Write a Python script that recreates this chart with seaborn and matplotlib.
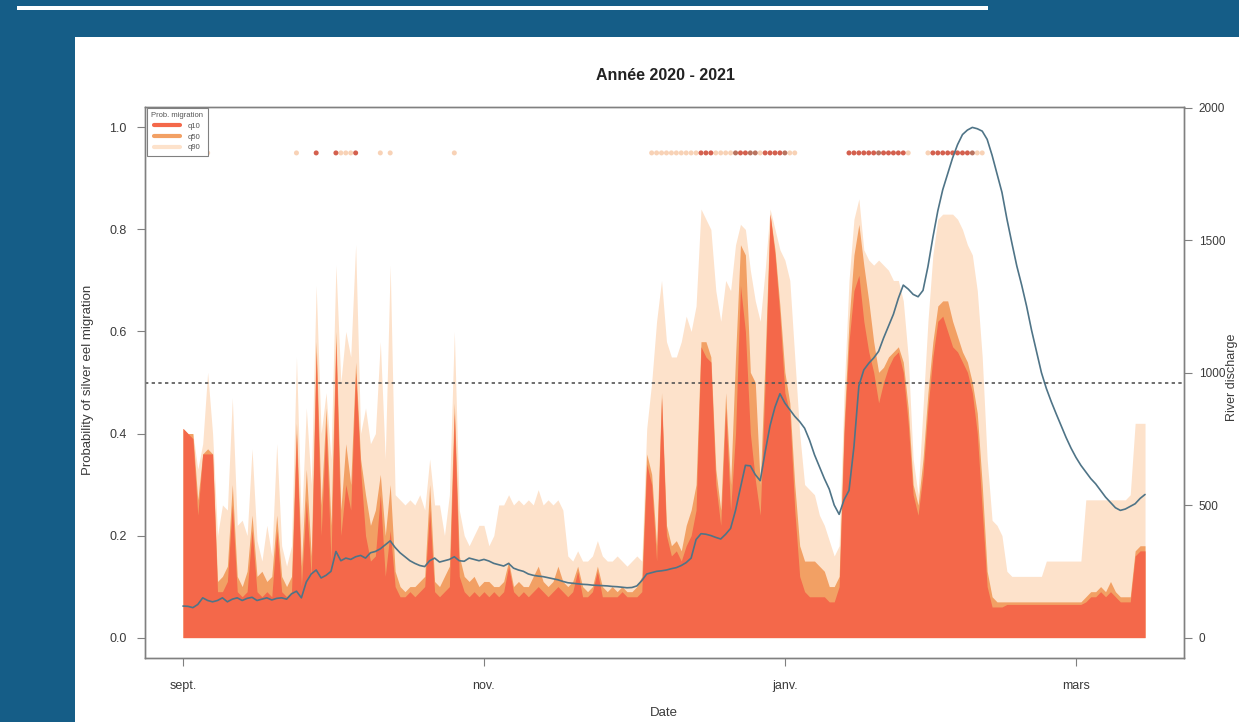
import numpy as np
import pandas as pd
import matplotlib
matplotlib.use("Agg")
import matplotlib.pyplot as plt
import matplotlib.dates as mdates
from matplotlib.lines import Line2D
from matplotlib.patches import Rectangle
import seaborn as sns

# ---- data (one value per day, 2020-09-01 ...) ----
start_date = "2020-09-01"

# lower band (red, front)
p_low = [
    .41, .40, .39, .24, .36, .36, .36, .09, .09, .11,
    .26, .09, .08, .09, .21, .09, .08, .09, .08, .21,
    .09, .08, .09, .40, .10, .27, .12, .56, .20, .42,
    .15, .58, .20, .30, .25, .52, .33, .20, .15, .16,
    .28, .12, .21, .10, .08, .08, .09, .08, .09, .10,
    .25, .09, .08, .09, .10, .44, .12, .09, .08, .09,
    .08, .09, .08, .09, .08, .09, .14, .09, .08, .09,
    .08, .09, .10, .09, .08, .09, .10, .09, .08, .09,
    .13, .08, .08, .09, .13, .08, .08, .08, .08, .09,
    .08, .08, .08, .09, .34, .30, .15, .47, .20, .16,
    .17, .15, .18, .20, .25, .57, .55, .54, .30, .22,
    .45, .25, .40, .69, .60, .40, .31, .24, .50, .83,
    .75, .63, .48, .44, .25, .12, .09, .08, .08, .08,
    .08, .07, .07, .10, .40, .58, .68, .71, .62, .56,
    .52, .46, .50, .53, .55, .56, .52, .42, .28, .24,
    .32, .45, .55, .62, .63, .60, .57, .56, .54, .52,
    .48, .40, .25, .10, .06, .06, .06, .065, .065, .065,
    .065, .065, .065, .065, .065, .065, .065, .065, .065, .065,
    .065, .065, .065, .07, .08, .08, .09, .08, .09, .08,
    .07, .07, .07, .16, .17, .17,
]

# middle band (orange)
p_mid = [
    .41, .40, .40, .27, .36, .37, .36, .11, .12, .14,
    .30, .12, .10, .13, .24, .12, .13, .11, .12, .24,
    .12, .10, .12, .42, .14, .33, .16, .58, .26, .45,
    .22, .60, .25, .38, .30, .54, .35, .28, .22, .25,
    .32, .20, .30, .13, .10, .09, .10, .10, .11, .12,
    .30, .11, .10, .12, .14, .46, .16, .12, .11, .12,
    .10, .11, .11, .10, .10, .11, .15, .10, .11, .10,
    .10, .12, .14, .11, .10, .11, .14, .11, .10, .11,
    .14, .10, .09, .10, .14, .10, .09, .10, .09, .10,
    .09, .09, .10, .12, .36, .32, .18, .48, .22, .18,
    .19, .17, .22, .25, .30, .58, .58, .55, .33, .25,
    .48, .30, .55, .77, .75, .52, .50, .30, .55, .83,
    .76, .65, .52, .46, .30, .18, .15, .15, .15, .14,
    .13, .10, .10, .12, .42, .62, .75, .81, .73, .66,
    .58, .52, .53, .55, .56, .57, .54, .45, .30, .26,
    .35, .48, .58, .65, .66, .66, .62, .59, .56, .54,
    .50, .44, .30, .13, .08, .07, .07, .07, .07, .07,
    .07, .07, .07, .07, .07, .07, .07, .07, .07, .07,
    .07, .07, .07, .08, .09, .09, .10, .09, .11, .09,
    .08, .08, .08, .17, .18, .18,
]

# upper band (light peach, back)
p_high = [
    .41, .40, .40, .33, .38, .52, .40, .20, .26, .25,
    .47, .22, .23, .20, .37, .19, .15, .22, .16, .38,
    .18, .14, .18, .55, .22, .45, .30, .69, .40, .48,
    .35, .73, .50, .60, .55, .77, .40, .45, .38, .40,
    .58, .35, .73, .28, .27, .26, .27, .26, .28, .25,
    .35, .26, .26, .20, .28, .60, .25, .20, .18, .20,
    .22, .22, .18, .20, .26, .26, .28, .26, .27, .26,
    .27, .26, .29, .26, .27, .26, .27, .25, .16, .15,
    .17, .15, .15, .16, .19, .16, .15, .15, .16, .15,
    .14, .15, .16, .15, .41, .50, .62, .70, .58, .55,
    .55, .58, .63, .60, .65, .84, .82, .80, .68, .62,
    .70, .68, .77, .81, .80, .72, .66, .62, .72, .84,
    .80, .76, .74, .70, .55, .40, .30, .29, .28, .24,
    .22, .19, .16, .18, .48, .70, .82, .86, .76, .74,
    .73, .74, .73, .72, .70, .70, .66, .55, .35, .28,
    .45, .62, .75, .82, .83, .83, .83, .82, .80, .77,
    .75, .68, .55, .35, .23, .22, .20, .13, .12, .12,
    .12, .12, .12, .12, .12, .15, .15, .15, .15, .15,
    .15, .15, .15, .27, .27, .27, .27, .27, .27, .27,
    .27, .27, .28, .42, .42, .42,
]

# river discharge (right axis)
discharge = [
    119, 118, 113, 125, 150, 140, 135, 140, 150, 135,
    145, 150, 140, 148, 152, 140, 145, 150, 142, 148,
    150, 145, 165, 175, 150, 210, 240, 255, 225, 235,
    250, 325, 290, 300, 295, 305, 310, 300, 320, 325,
    335, 350, 365, 340, 320, 305, 290, 280, 272, 268,
    290, 300, 285, 290, 295, 305, 290, 288, 300, 295,
    290, 295, 289, 280, 275, 270, 280, 262, 255, 250,
    240, 235, 232, 230, 226, 222, 218, 212, 207, 205,
    203, 201, 200, 198, 197, 196, 195, 193, 192, 190,
    188, 189, 195, 215, 240, 245, 250, 252, 255, 260,
    264, 272, 283, 300, 370, 392, 390, 385, 378, 372,
    390, 412, 480, 566, 650, 648, 615, 592, 700, 800,
    870, 920, 885, 860, 835, 815, 790, 745, 690, 645,
    600, 560, 500, 465, 520, 555, 720, 950, 1010, 1035,
    1055, 1080, 1130, 1175, 1220, 1280, 1330, 1315, 1295, 1286,
    1310, 1400, 1510, 1610, 1690, 1750, 1810, 1860, 1898, 1915,
    1925, 1920, 1911, 1880, 1820, 1750, 1680, 1580, 1490, 1403,
    1330, 1250, 1160, 1080, 1000, 940, 890, 844, 800, 755,
    715, 680, 650, 625, 600, 580, 555, 530, 510, 490,
    480, 485, 495, 505, 525, 540,
]

month_ticks = ["2020-09-01", "2020-11-01", "2021-01-01", "2021-03-01"]
month_labels = ["sept.", "nov.", "janv.", "mars"]
prob_ticks = [0.0, 0.2, 0.4, 0.6, 0.8, 1.0]
prob_labels = ["0.0", "0.2", "0.4", "0.6", "0.8", "1.0"]
flow_ticks = [0, 500, 1000, 1500, 2000]
legend_labels = ["q10", "q50", "q90"]

threshold = 0.5
marker_level = 0.95

# colours
slide_blue = "#155d87"
c_low = "#f4684a"
c_mid = "#f2a064"
c_high = "#fde2cb"
c_flow = "#4f7487"
c_axis = "#808080"
c_text = "#3a3a3a"

sns.set_theme(style="white")
plt.rcParams["font.family"] = ["Liberation Sans", "DejaVu Sans"]

dates = pd.date_range(start_date, periods=len(discharge), freq="D")
df = pd.DataFrame({"date": dates, "low": p_low, "mid": p_mid,
                   "high": p_high, "flow": discharge})

# days above the 0.5 threshold, shown as a strip of dots near the top
cat = np.select([df["low"] >= threshold, df["mid"] >= threshold, df["high"] >= threshold],
                ["low", "mid", "high"], default="")
marks = pd.DataFrame({"date": df["date"], "level": marker_level, "cat": cat})
marks = marks[marks["cat"] != ""]
marks["order"] = marks["cat"].map({"high": 0, "mid": 1, "low": 2})
marks = marks.sort_values("order")

W, H = 1239, 722
fig = plt.figure(figsize=(W / 100, H / 100), dpi=100, facecolor=slide_blue)
fig.add_artist(Rectangle((75 / W, 0), 1 - 75 / W, 1 - 37 / H, transform=fig.transFigure,
                         facecolor="white", edgecolor="none", zorder=-2))
fig.add_artist(Rectangle((17 / W, 1 - 10 / H), (988 - 17) / W, 4 / H, transform=fig.transFigure,
                         facecolor="white", edgecolor="none", zorder=-2))

ax = fig.add_axes([144.5 / W, 1 - 658 / H, 1039 / W, 551 / H])
ax.set_facecolor("white")

ax.fill_between(df["date"], 0, df["high"], color=c_high, lw=0, zorder=1)
ax.fill_between(df["date"], 0, df["mid"], color=c_mid, lw=0, zorder=1.1)
ax.fill_between(df["date"], 0, df["low"], color=c_low, lw=0, zorder=1.2)
ax.axhline(threshold, color="#555555", lw=1.2, ls=(0, (2, 2)), zorder=2)

sns.scatterplot(data=marks, x="date", y="level", hue="cat",
                palette={"high": "#f8d2b6", "mid": "#b9735f", "low": "#d4604e"},
                s=13, linewidth=0, legend=False, ax=ax, zorder=3)

x0 = mdates.date2num(dates[0])
ax.set_xlim(x0 - 7.8, x0 + 202.8)
ax.set_ylim(-0.04, 1.04)
ax.set_xticks(mdates.date2num(pd.to_datetime(month_ticks)))
ax.set_xticklabels(month_labels)
ax.set_yticks(prob_ticks)
ax.set_yticklabels(prob_labels)
ax.set_xlabel("")
ax.set_ylabel("")

handles = [Line2D([0], [0], color=c, lw=3) for c in (c_low, c_mid, c_high)]
leg = ax.legend(handles, legend_labels, title="Prob. migration", loc="upper left",
                bbox_to_anchor=(0.002, 0.999), borderaxespad=0, fontsize=5.5,
                title_fontsize=5.5, frameon=True, fancybox=False, framealpha=1,
                edgecolor=c_axis, handlelength=3.4, labelspacing=0.45,
                borderpad=0.6, handletextpad=1.0)
leg.get_frame().set_linewidth(0.8)
for t in leg.get_texts():
    t.set_color("#555555")
leg.get_title().set_color("#555555")

ax2 = ax.twinx()
sns.lineplot(x=df["date"], y=df["flow"], ax=ax2, color=c_flow, lw=1.2)
ax2.set_ylim(-77, 2002)
ax2.set_yticks(flow_ticks)
ax2.set_yticklabels([str(v) for v in flow_ticks])
ax2.set_ylabel("")
ax2.set_xlabel("")

for a in (ax, ax2):
    for sp in a.spines.values():
        sp.set_color(c_axis)
        sp.set_linewidth(1.0)
ax.tick_params(axis="both", direction="out", length=6, width=0.8, color=c_axis,
               labelsize=9, labelcolor=c_text, pad=7, bottom=True, left=True)
ax.tick_params(axis="x", pad=10)
ax2.tick_params(axis="y", direction="out", length=6, width=0.8, color=c_axis,
                labelsize=8.5, labelcolor=c_text, pad=5, right=True, labelright=True)

# titles and axis labels placed like the R layout
fig.text(666 / W, 1 - 75 / H, "Année 2020 - 2021", ha="center", va="center",
         fontsize=11.5, fontweight="bold", color="#222222")
fig.text(88 / W, 1 - 380 / H, "Probability of silver eel migration", rotation=90,
         ha="center", va="center", fontsize=9.5, color=c_text)
fig.text(1231.5 / W, 1 - 377 / H, "River discharge", rotation=90,
         ha="center", va="center", fontsize=9, color=c_text)
fig.text(664 / W, 1 - 713 / H, "Date", ha="center", va="center",
         fontsize=9.5, color=c_text)

fig.savefig("out.png", dpi=100, facecolor=fig.get_facecolor())
